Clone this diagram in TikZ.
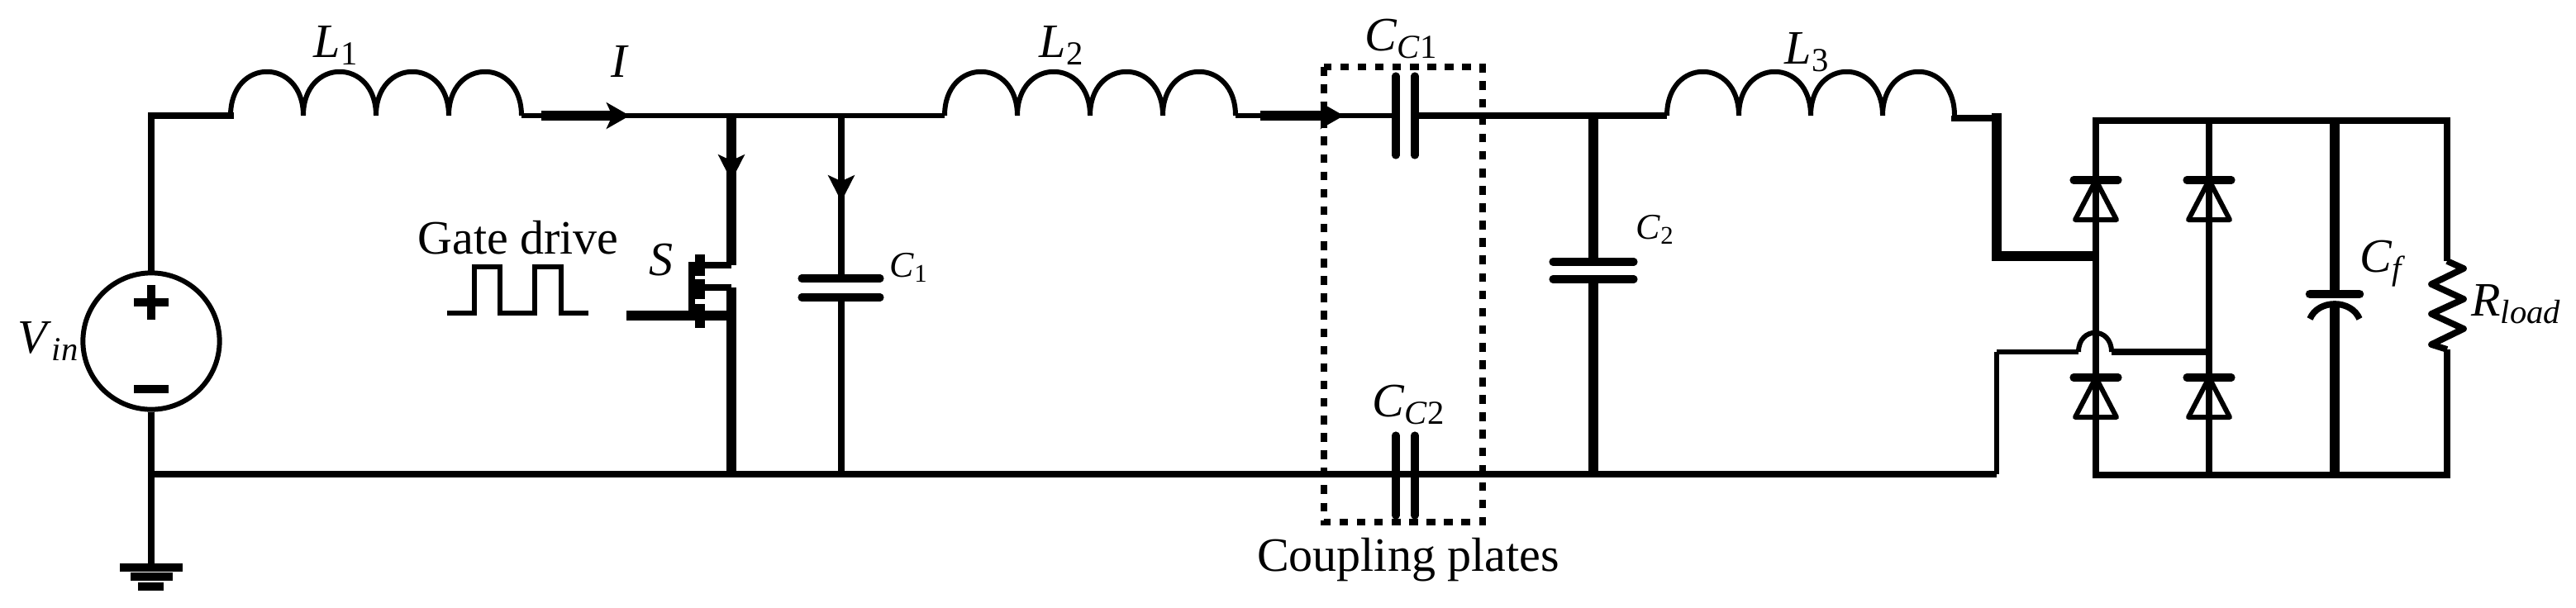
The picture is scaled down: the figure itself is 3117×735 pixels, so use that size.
\documentclass[tikz,border=0pt]{standalone}
\usepackage{fontspec}
\setmainfont{Liberation Serif}
\usetikzlibrary{arrows.meta}
\tikzset{
  wire/.style={line width=2.5pt,line join=miter},
  thinwire/.style={line width=1.7pt},
  thickwire/.style={line width=3.4pt},
  hump/.style={to path={.. controls +(0,-71) and +(0,-71) .. (\tikztotarget)}},
  flow/.style={thickwire,-{Stealth[length=8pt,width=9pt,inset=2pt]}},
  drop/.style={wire,-{Stealth[length=9pt,width=9pt,inset=2pt]}},
  plate/.style={line width=2.6pt,line cap=round},
  tag/.style={inner sep=0pt,font=\fontsize{16.5}{18}\selectfont},
  smalltag/.style={inner sep=0pt,font=\fontsize{12.5}{14}\selectfont}
}
\newcommand{\symb}[2]{\textit{#1}\textsubscript{#2}}
\begin{document}
\begin{tikzpicture}[x=0.01cm,y=-0.01cm]
      \useasboundingbox (0,0) rectangle (3117,735);
      \draw
        (59,413) node[tag] (vinlbl){\symb{V}{\textit{in}}}
        (407,55) node[tag] (l1lbl){\symb{L}{1}}
        (750,74) node[tag] (ilbl){\textit{I}}
        (627,288) node[tag] (gatelbl){Gate drive}
        (800,315) node[tag] (slbl){\textit{S}}
        (1100,324) node[smalltag] (c1lbl){\symb{C}{1}}
        (1285,55) node[tag] (l2lbl){\symb{L}{2}}
        (1696,47) node[tag] (cc1lbl){\symb{C}{\textit{C}1}}
        (1705,490) node[tag] (cc2lbl){\symb{C}{\textit{C}2}}
        (2003,278) node[smalltag] (c2lbl){\symb{C}{2}}
        (2187,63) node[tag] (l3lbl){\symb{L}{3}}
        (2884,319) node[tag] (cflbl){\symb{C}{\textit{f}}}
        (3045,368) node[tag] (rlbl){\symb{R}{\textit{load}}}
        (1704,678) node[tag] (couplbl){Coupling plates};
      \foreach \name/\x/\w in {la/279/88,lb/1143/88,lc/2017/87}
        \foreach \i in {0,...,4}
          \coordinate (\name\i) at (\x+\w*\i,140);
      \draw
        (183,140) coordinate (tl)
        (183,574) coordinate (bl)
        (183,413) node[draw,circle,line width=1.7pt,minimum size=47pt,inner sep=0pt] (vin){}
        (183,687) coordinate (gnd)
        (885,140) coordinate (dtop)
        (885,219) coordinate (dmid)
        (885,321) coordinate (dbot)
        (847,321) coordinate (chtop)
        (847,348) coordinate (chmid)
        (885,348) coordinate (smid)
        (885,574) coordinate (sbot)
        (758,382) coordinate (gin)
        (885,382) coordinate (gout)
        (1018,140) coordinate (c1top)
        (1018,244) coordinate (c1mid)
        (1018,337) coordinate (c1a)
        (1018,360) coordinate (c1b)
        (1018,574) coordinate (c1bot)
        (1712,140) coordinate (cc1r)
        (1689,140) coordinate (cc1l)
        (1928,140) coordinate (c2top)
        (1928,317) coordinate (c2a)
        (1928,338) coordinate (c2b)
        (1928,574) coordinate (c2bot)
        (2416,143) coordinate (intop)
        (2416,310) coordinate (inmid)
        (2536,310) coordinate (injoin)
        (2416,574) coordinate (retbot)
        (2416,426) coordinate (rettop)
        (2515,426) coordinate (hopa)
        (2555,426) coordinate (hopb)
        (2673,426) coordinate (hopend)
        (2536,146) coordinate (r1)
        (2673,146) coordinate (r2)
        (2825,146) coordinate (r3)
        (2961,146) coordinate (r4)
        (2536,575) coordinate (r5)
        (2673,575) coordinate (r6)
        (2825,575) coordinate (r7)
        (2961,575) coordinate (r8)
        (2825,356) coordinate (cfa)
        (2825,367) coordinate (cfb)
        (2961,316) coordinate (ra)
        (2961,423) coordinate (rb);
      \begin{scope}[-]
        \draw[wire,line cap=rect] (tl) to (la0);
        \draw[wire,line cap=rect] (tl) to (vin);
        \draw[wire] (vin) to (gnd);
        \draw[wire] (bl) to (retbot);
        \foreach \name in {la,lb,lc}
          \draw[thinwire] (\name0) to[hump] (\name1) to[hump] (\name2) to[hump] (\name3) to[hump] (\name4);
        \draw[thinwire] (la4) to (lb0);
        \draw[thinwire] (lb4) to (cc1l);
        \draw[wire] (cc1r) to (lc0);
        \draw[thickwire] (c2top) to (c2a);
        \draw[thickwire] (c2b) to (c2bot);
        \draw[thickwire] (dtop) to (dbot);
        \draw[wire] (dbot) to (chtop);
        \draw[wire] (c1top) to (c1a);
        \draw[wire] (c1b) to (c1bot);
        \draw[wire] (chmid) to (smid);
        \draw[thickwire] (smid) to (sbot);
        \draw[thickwire] (gin) to (gout);
        \draw[wire] (lc4) |- (intop);
        \draw[thickwire,line cap=rect] (intop) to (inmid);
        \draw[thickwire] (inmid) to (injoin);
        \draw[thinwire] (retbot) to (rettop);
        \draw[thinwire] (rettop) to (hopa);
        \draw[thinwire] (hopa) .. controls +(0,-31) and +(0,-31) .. (hopb);
        \draw[wire] (hopb) to (hopend);
        \draw[wire] (r1) to (r5);
        \draw[wire] (r2) to (r6);
        \draw[thickwire] (r3) to (cfa);
        \draw[thickwire] (cfb) to (r7);
        \draw[wire] (r4) to (ra);
        \draw[wire] (rb) to (r8);
        \draw[wire,line cap=rect] (r1) to (r4);
        \draw[wire,line cap=rect] (r5) to (r8);
      \end{scope}
      \draw[flow] (655,140) coordinate (ia) -- (762,140) coordinate (ib);
      \draw[flow] (1525,140) coordinate (ja) -- (1626,140) coordinate (jb);
      \draw[drop] (dtop) -- (dmid);
      \draw[drop] (c1top) -- (c1mid);
      \draw[line width=2.2pt,line join=round] (ra) -- (2981,325) -- (2942,344) -- (2981,362) -- (2942,380) -- (2981,398) -- (2942,417) -- (rb);
      \foreach \n/\x/\y in {da/2536/218,db/2673/218,dc/2536/457,dd/2673/457} {
        \coordinate (\n) at (\x,\y);
        \draw[plate] (\x-27,\y) -- (\x+27,\y);
        \draw[thinwire,line join=round] (\n) -- (\x-25,\y+48) -- (\x+25,\y+48) -- cycle;
      }
      \draw[plate] (970,337) -- (1065,337);
      \draw[plate] (970,360) -- (1065,360);
      \draw[plate] (1879,317) -- (1977,317);
      \draw[plate] (1879,338) -- (1977,338);
      \foreach \x in {1689,1712} {
        \draw[plate] (\x,92) -- (\x,188);
        \draw[plate] (\x,527) -- (\x,624);
      }
      \draw[plate,line width=3pt] (2795,356) -- (2855,356);
      \draw[line width=2.2pt] (2795,386) .. controls (2805,362) and (2845,362) .. (2855,386);
      \draw[line width=2.4pt,dash pattern=on 3pt off 3pt] (1602,81) rectangle (1794,632);
      \draw[thickwire] (847,308) -- (847,334);
      \draw[thickwire] (847,338) -- (847,362);
      \draw[thickwire] (847,368) -- (847,397);
      \draw[wire] (837,317) -- (837,377);
      \draw[line width=1.5pt] (541,379) -- (574,379) -- (574,323) -- (605,323) -- (605,379) -- (647,379) -- (647,323) -- (679,323) -- (679,379) -- (712,379);
      \draw[line width=2.6pt] (162,366) -- (204,366);
      \draw[line width=2.6pt] (183,345) -- (183,387);
      \draw[line width=3pt] (162,471) -- (204,471);
      \draw[line width=3pt] (145,687) -- (221,687);
      \draw[line width=3pt] (158,698) -- (209,698);
      \draw[line width=3pt] (167,710) -- (198,710);
    \end{tikzpicture}
\end{document}
